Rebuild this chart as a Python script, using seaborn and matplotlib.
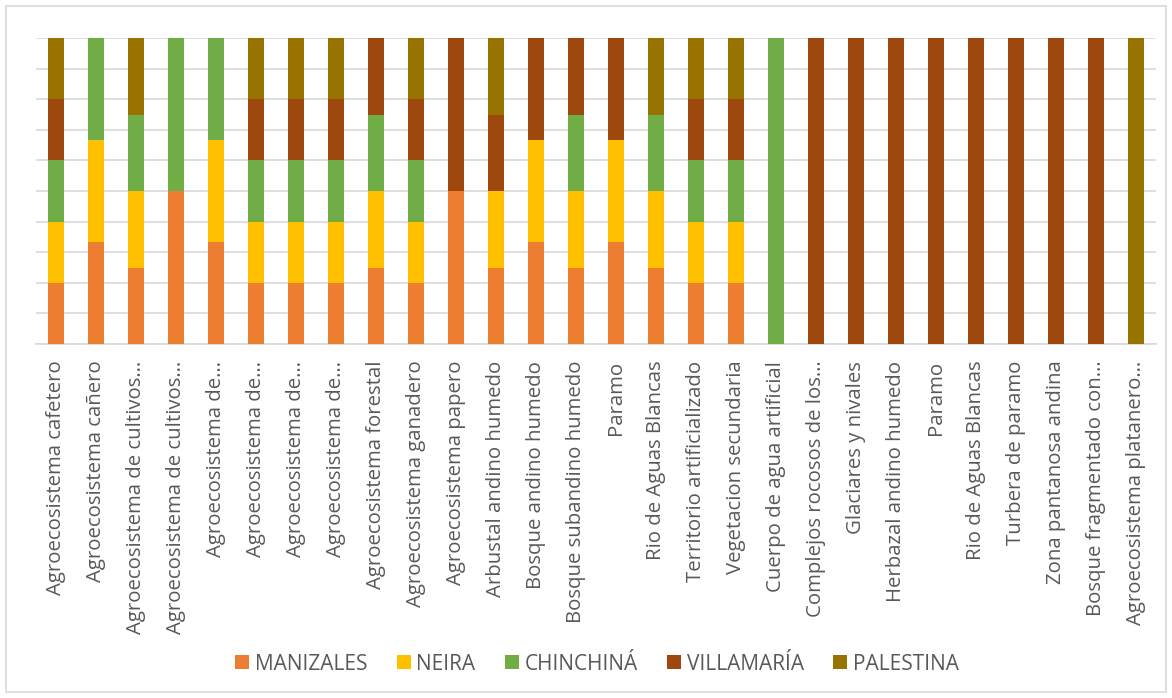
import numpy as np
import pandas as pd
import matplotlib
matplotlib.use("Agg")
import matplotlib.pyplot as plt
from matplotlib.patches import Rectangle
from matplotlib.lines import Line2D
import seaborn as sns

# Ecosystem categories (labels as truncated in the original)
categories = [
    "Agroecosistema cafetero", "Agroecosistema cañero",
    "Agroecosistema de cultivos…", "Agroecosistema de cultivos…",
    "Agroecosistema de…", "Agroecosistema de…", "Agroecosistema de…",
    "Agroecosistema de…", "Agroecosistema forestal", "Agroecosistema ganadero",
    "Agroecosistema papero", "Arbustal andino humedo", "Bosque andino humedo",
    "Bosque subandino humedo", "Paramo", "Rio de Aguas Blancas",
    "Territorio artificializado", "Vegetacion secundaria",
    "Cuerpo de agua artificial", "Complejos rocosos de los…",
    "Glaciares y nivales", "Herbazal andino humedo", "Paramo",
    "Rio de Aguas Blancas", "Turbera de paramo", "Zona pantanosa andina",
    "Bosque fragmentado con…", "Agroecosistema platanero…",
]

# Presence of each ecosystem per municipality
manizales  = [1, 1, 1, 1, 1, 1, 1, 1, 1, 1, 1, 1, 1, 1, 1, 1, 1, 1, 0, 0, 0, 0, 0, 0, 0, 0, 0, 0]
neira      = [1, 1, 1, 0, 1, 1, 1, 1, 1, 1, 0, 1, 1, 1, 1, 1, 1, 1, 0, 0, 0, 0, 0, 0, 0, 0, 0, 0]
chinchina  = [1, 1, 1, 1, 1, 1, 1, 1, 1, 1, 0, 0, 0, 1, 0, 1, 1, 1, 1, 0, 0, 0, 0, 0, 0, 0, 0, 0]
villamaria = [1, 0, 0, 0, 0, 1, 1, 1, 1, 1, 1, 1, 1, 1, 1, 0, 1, 1, 0, 1, 1, 1, 1, 1, 1, 1, 1, 0]
palestina  = [1, 0, 1, 0, 0, 1, 1, 1, 0, 1, 0, 1, 0, 0, 0, 1, 1, 1, 0, 0, 0, 0, 0, 0, 0, 0, 0, 1]

series = ["MANIZALES", "NEIRA", "CHINCHINÁ", "VILLAMARÍA", "PALESTINA"]
colors = ["#ED7D31", "#FFC000", "#70AD47", "#9E480E", "#997300"]

df = pd.DataFrame({
    "MANIZALES": manizales, "NEIRA": neira, "CHINCHINÁ": chinchina,
    "VILLAMARÍA": villamaria, "PALESTINA": palestina,
}, dtype=float)
pct = df.div(df.sum(axis=1), axis=0) * 100
cum = pct.cumsum(axis=1)
cum["pos"] = np.arange(len(categories))

sns.set_style("white")
plt.rcParams["font.family"] = ["Open Sans", "DejaVu Sans"]

fig = plt.figure(figsize=(11.72, 6.98), dpi=100)
ax = fig.add_axes([36 / 1172, 1 - 344 / 698, 1120 / 1172, 306 / 698])

# Draw cumulative totals from the top series down so the stacks overlap correctly
for name, col in reversed(list(zip(series, colors))):
    sns.barplot(data=cum, x="pos", y=name, color=col, width=0.4,
                linewidth=0, saturation=1, ax=ax, native_scale=True, zorder=3)

ax.set_xlim(-0.5, len(categories) - 0.5)
ax.set_ylim(0, 100)
ax.set_yticks(np.arange(0, 101, 10))
ax.yaxis.grid(True, color="#D9D9D9", linewidth=1.2, zorder=0)
ax.set_yticklabels([])
ax.tick_params(axis="y", length=0)
ax.set_xticks(np.arange(len(categories)))
ax.set_xticklabels(categories, rotation=90, fontsize=14.7, color="#595959")
ax.tick_params(axis="x", length=0, pad=12)
ax.set_xlabel("")
ax.set_ylabel("")
for s in ["top", "right", "left"]:
    ax.spines[s].set_visible(False)
ax.spines["bottom"].set_color("#D9D9D9")
ax.spines["bottom"].set_linewidth(1.2)

handles = [Line2D([0], [0], marker="s", linestyle="", markersize=10,
                  markerfacecolor=c, markeredgewidth=0) for c in colors]
fig.legend(handles, series, loc="center", bbox_to_anchor=(597 / 1172, 1 - 664 / 698),
           ncol=5, frameon=False, fontsize=15, labelcolor="#595959",
           handletextpad=0.25, columnspacing=1.4, handlelength=0.7)

# Chart area border
fig.patches.append(Rectangle((6 / 1172, 6 / 698), 1 - 12 / 1172, 1 - 12 / 698,
                             transform=fig.transFigure, fill=False,
                             edgecolor="#D9D9D9", linewidth=1.2))

fig.savefig("out.png", dpi=100)
